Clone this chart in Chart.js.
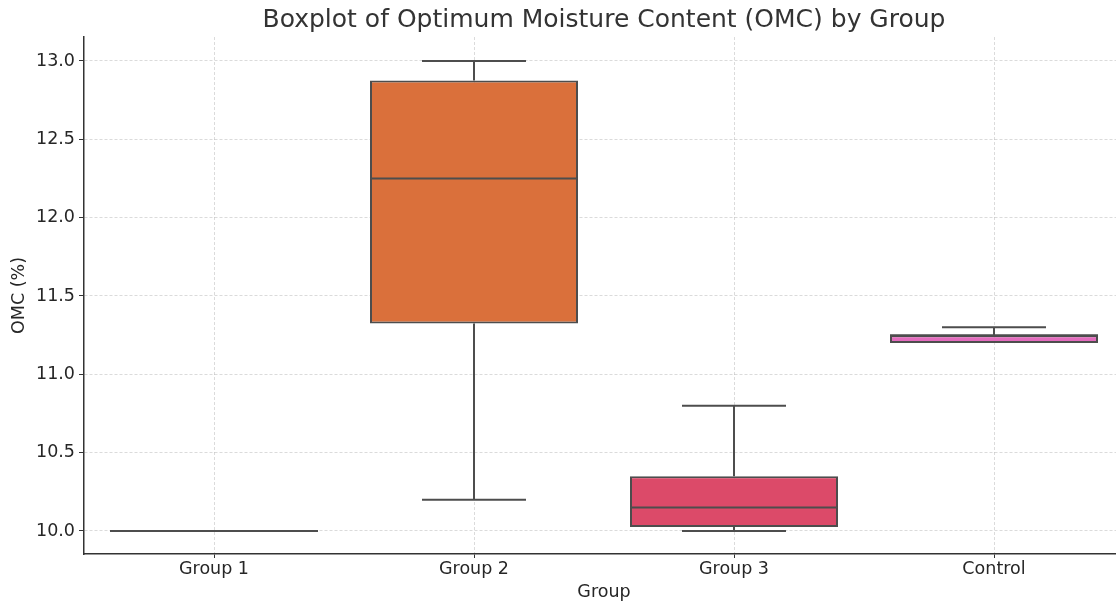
<!DOCTYPE html>
<html lang="en">
<head>
  <meta charset="UTF-8">
  <title>Boxplot of Optimum Moisture Content (OMC) by Group</title>
  <script src="https://cdn.jsdelivr.net/npm/chart.js"></script>
  <style>
    html, body { margin: 0; padding: 0; background: #fff; overflow: hidden; }
    /* plot runs a little past the right edge of the window, as in the original */
    #wrap { width: 1124px; height: 606px; position: relative; }
  </style>
</head>
<body>
  <div id="wrap"><canvas id="chart"></canvas></div>
  <script>
    // Box statistics
    const categories = ['Group 1', 'Group 2', 'Group 3', 'Control'];
    const mins    = [10.0, 10.2,   10.0,   11.2];
    const q1s     = [10.0, 11.325, 10.025, 11.2];
    const medians = [10.0, 12.25,  10.15,  11.25];
    const q3s     = [10.0, 12.875, 10.35,  11.25];
    const maxs    = [10.0, 13.0,   10.8,   11.3];
    const boxColors = ['#e3a03c', '#da703b', '#dc4a69', '#e36bbd'];
    const yTicks = [10.0, 10.5, 11.0, 11.5, 12.0, 12.5, 13.0];

    const LINE = '#4d4d4d';
    const FONT = 'DejaVu Sans';
    const LABEL_SIZE = 17.5;

    // whiskers, caps and medians drawn from the scales
    const boxWhiskers = {
      id: 'boxWhiskers',
      afterDatasetsDraw(chart) {
        const { ctx, scales: { x, y } } = chart;
        const bars = chart.getDatasetMeta(0).data;
        ctx.save();
        ctx.strokeStyle = LINE;
        ctx.lineWidth = 2;
        ctx.lineCap = 'butt';
        categories.forEach((c, i) => {
          const cx = x.getPixelForValue(i);
          const half = bars[i].width / 2;
          const capHalf = half / 2;
          ctx.beginPath();
          // upper whisker + cap
          if (maxs[i] > q3s[i]) {
            ctx.moveTo(cx, y.getPixelForValue(q3s[i]));
            ctx.lineTo(cx, y.getPixelForValue(maxs[i]));
            ctx.moveTo(cx - capHalf, y.getPixelForValue(maxs[i]));
            ctx.lineTo(cx + capHalf, y.getPixelForValue(maxs[i]));
          }
          // lower whisker + cap
          if (mins[i] < q1s[i]) {
            ctx.moveTo(cx, y.getPixelForValue(q1s[i]));
            ctx.lineTo(cx, y.getPixelForValue(mins[i]));
            ctx.moveTo(cx - capHalf, y.getPixelForValue(mins[i]));
            ctx.lineTo(cx + capHalf, y.getPixelForValue(mins[i]));
          }
          // median
          ctx.moveTo(cx - half, y.getPixelForValue(medians[i]));
          ctx.lineTo(cx + half, y.getPixelForValue(medians[i]));
          ctx.stroke();
        });
        ctx.restore();
      }
    };

    new Chart(document.getElementById('chart'), {
      type: 'bar',
      data: {
        labels: categories,
        datasets: [{
          label: 'OMC (%)',
          data: categories.map((c, i) => [q1s[i], q3s[i]]),
          backgroundColor: boxColors,
          borderColor: LINE,
          borderWidth: 2,
          borderSkipped: false,
          barPercentage: 0.8,
          categoryPercentage: 1.0
        }]
      },
      options: {
        responsive: true,
        maintainAspectRatio: false,
        animation: false,
        layout: { padding: 0 },
        plugins: {
          legend: { display: false },
          tooltip: { enabled: false },
          title: {
            display: true,
            fullSize: false, // centre over the plot area, not the canvas
            text: 'Boxplot of Optimum Moisture Content (OMC) by Group',
            color: '#333',
            font: { family: FONT, size: 25, weight: 'normal' },
            padding: { top: 5, bottom: 2 }
          }
        },
        scales: {
          x: {
            offset: true,
            grid: {
              color: 'rgba(0,0,0,0.18)',
              lineWidth: 0.8,
              offset: false,
              drawTicks: true,
              tickLength: 4,
              tickColor: '#333',
              tickWidth: 1
            },
            border: { display: true, color: '#333', width: 1.5, dash: [3, 2] },
            ticks: {
              color: '#262626',
              font: { family: FONT, size: LABEL_SIZE },
              padding: 1
            },
            title: {
              display: true,
              text: 'Group',
              color: '#262626',
              font: { family: FONT, size: LABEL_SIZE },
              padding: { top: 0, bottom: 3 }
            },
            afterFit(scale) { scale.height = 52; }
          },
          y: {
            min: 9.853,
            max: 13.153,
            grid: {
              color: 'rgba(0,0,0,0.18)',
              lineWidth: 0.8,
              drawTicks: true,
              tickLength: 5,
              tickColor: '#333',
              tickWidth: 1
            },
            border: { display: true, color: '#333', width: 1.5, dash: [3, 2] },
            afterBuildTicks(scale) {
              scale.ticks = yTicks.map(v => ({ value: v }));
            },
            ticks: {
              color: '#262626',
              font: { family: FONT, size: LABEL_SIZE },
              padding: 4,
              callback: v => Number(v).toFixed(1)
            },
            title: {
              display: true,
              text: 'OMC (%)',
              color: '#262626',
              font: { family: FONT, size: LABEL_SIZE },
              padding: { top: 9, bottom: 0 }
            },
            afterFit(scale) { scale.width = 84; }
          }
        }
      },
      plugins: [boxWhiskers]
    });
  </script>
</body>
</html>
